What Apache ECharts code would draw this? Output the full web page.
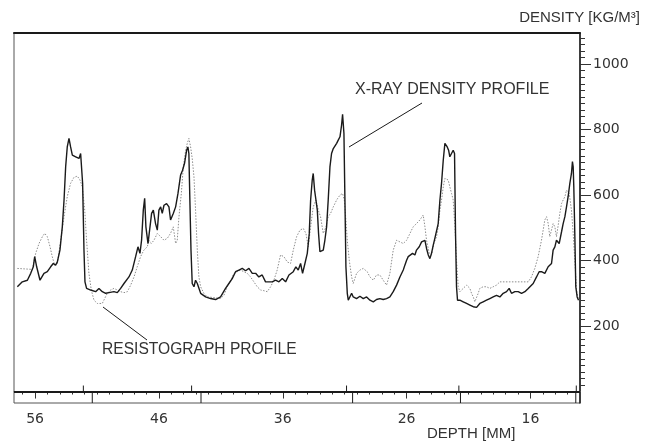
<!DOCTYPE html>
<html>
<head>
<meta charset="utf-8">
<script src="https://cdn.jsdelivr.net/npm/echarts@6/dist/echarts.min.js"></script>
<style>
  html, body { margin: 0; padding: 0; background: #fff; }
  #chart { width: 646px; height: 444px; }
</style>
</head>
<body>
<div id="chart"></div>
<script>
// depth [mm], density [kg/m3]
const xray = [
  [57.43,320],[57.03,335],[56.62,340],[56.35,361],[56.14,381],[56.03,412],[55.87,381],[55.60,340],[55.28,361],[55.01,366],
  [54.74,381],[54.53,391],[54.34,386],[54.20,396],[53.99,432],[53.80,503],[53.66,585],[53.53,686],[53.40,747],[53.26,773],
  [53.13,747],[52.99,722],[52.86,727],[52.72,717],[52.59,722],[52.45,712],[52.32,727],[52.24,729],[52.16,636],[52.05,432],
  [51.97,335],[51.84,315],[51.51,310],[51.11,305],[50.84,315],[50.57,305],[50.30,300],[50.03,302],[49.63,305],[49.36,302],
  [49.09,315],[48.82,330],[48.42,350],[48.15,371],[47.88,412],[47.69,442],[47.53,422],[47.40,462],[47.26,554],[47.15,590],
  [47.05,503],[46.88,452],[46.72,503],[46.59,544],[46.45,554],[46.27,513],[46.13,493],[46.00,554],[45.86,564],[45.73,544],
  [45.59,569],[45.38,574],[45.19,564],[45.06,524],[44.84,544],[44.65,564],[44.46,605],[44.25,661],[44.09,676],[43.93,697],
  [43.76,737],[43.66,747],[43.58,727],[43.50,585],[43.41,432],[43.31,330],[43.17,320],[43.04,340],[42.90,330],[42.63,300],
  [42.23,289],[41.83,284],[41.42,281],[41.02,289],[40.62,315],[40.35,330],[40.08,345],[39.81,366],[39.54,371],[39.27,376],
  [39.00,369],[38.73,376],[38.46,361],[38.19,361],[37.93,350],[37.66,356],[37.39,335],[37.12,335],[36.85,335],[36.58,340],
  [36.31,335],[36.04,345],[35.77,335],[35.50,356],
  [35.42,350],[35.15,366],[34.94,381],[34.75,371],[34.56,391],[34.40,361],[34.21,391],[34.02,422],[33.86,483],[33.75,585],
  [33.62,646],[33.54,666],[33.43,615],[33.32,585],[33.21,554],[33.11,483],[33.00,427],[32.86,422],[32.73,432],[32.60,462],
  [32.46,503],[32.33,585],[32.19,686],[32.06,727],[31.92,742],[31.79,737],[31.65,758],[31.52,768],[31.38,778],[31.25,814],
  [31.17,847],[31.06,788],[30.98,585],[30.90,381],[30.79,300],[30.71,279],[30.58,284],[30.44,300],[30.31,289],[30.17,294],
  [30.04,284],[29.90,289],[29.77,291],[29.50,284],[29.23,289],[28.96,279],[28.69,274],[28.43,281],[28.16,284],[27.89,281],
  [27.62,284],[27.35,289],[27.08,305],[26.81,325],[26.54,350],[26.27,371],[26.14,386],[26.00,401],[25.87,412],[25.73,417],
  [25.52,422],[25.33,417],[25.20,432],[24.98,442],[24.79,457],[24.66,452],[24.52,462],[24.39,437],[24.25,417],[24.12,406],
  [23.99,422],[23.85,447],[23.72,468],[23.58,473],[23.45,513],[23.31,585],[23.18,636],[23.04,707],[22.91,758],[22.83,763],
  [22.72,747],[22.61,737],[22.51,717],[22.37,722],[22.24,737],[22.13,727],[22.05,483],[21.97,320],[21.89,279],[21.70,279],
  [21.43,274],[21.16,269],[20.89,264],[20.62,259],[20.35,257],[20.09,269],[19.82,274],[19.55,279],[19.28,284],[19.01,289],
  [18.74,294],[18.47,289],[18.20,300],[17.93,305],[17.72,315],[17.53,300],[17.26,305],[16.99,305],[16.72,300],[16.45,305],
  [16.18,315],[16.05,310],[15.78,330],[15.51,350],[15.30,366],[15.11,366],[14.84,361],[14.57,381],[14.30,391],[14.17,432],
  [14.03,442],[13.90,462],[13.68,452],[13.49,488],[13.36,513],[13.22,534],[13.09,564],[12.96,595],[12.82,636],[12.69,666],
  [12.61,702],[12.55,686],[12.50,625],[12.42,483],[12.34,320],[12.23,289],[12.12,279]
];

const resisto = [
  [57.43,376],[56.22,373],[55.95,422],[55.68,452],[55.41,473],[55.22,483],[55.01,473],[54.79,442],[54.61,412],[54.42,386],
  [54.20,391],[53.93,462],[53.66,534],[53.40,595],[53.13,636],[52.86,654],[52.59,658],[52.37,646],[52.18,625],[51.99,554],
  [51.84,462],[51.65,361],[51.46,310],[51.24,279],[50.97,269],[50.57,269],[50.38,284],[50.17,300],[49.90,310],[49.63,315],
  [49.36,310],[49.09,305],[48.82,302],[48.55,305],[48.28,325],[48.01,350],[47.75,381],[47.48,412],[47.21,432],[46.94,442],
  [46.80,462],[46.62,452],[46.40,462],[46.13,483],[45.86,473],[45.59,462],[45.32,468],[45.06,483],[44.84,503],[44.65,452],
  [44.52,462],[44.38,534],[44.19,605],[44.03,686],[43.84,737],[43.71,758],[43.58,773],[43.44,747],[43.31,712],[43.17,656],
  [43.04,554],[42.90,432],[42.77,350],[42.63,320],[42.37,300],[42.10,289],[41.56,287],[41.02,284],[40.75,294],[40.48,320],
  [40.21,340],[39.94,361],[39.67,366],[39.41,371],[39.14,366],[38.87,361],[38.60,350],[38.33,335],[38.06,320],[37.79,310],
  [37.52,308],[37.25,305],[36.98,320],[36.72,340],[36.45,371],[36.18,417],[35.91,412],[35.64,396],[35.37,391],
  [35.15,432],[34.88,473],[34.61,493],[34.34,498],[34.13,483],[33.94,442],[33.75,503],[33.54,564],[33.32,585],[33.13,554],
  [32.95,534],[32.73,483],[32.51,503],[32.33,534],[32.14,544],[31.92,564],[31.65,585],[31.38,600],[31.17,605],[31.03,585],
  [30.90,524],[30.79,462],[30.63,401],[30.44,350],[30.31,330],[30.04,361],[29.77,371],[29.50,376],[29.18,366],[28.96,350],
  [28.69,340],[28.43,356],[28.16,356],[27.89,340],[27.62,325],[27.35,361],[27.08,432],[26.81,462],[26.54,457],[26.27,452],
  [26.00,462],[25.73,483],[25.47,503],[25.20,513],[24.93,524],[24.66,539],[24.52,503],[24.39,462],[24.17,422],[23.99,417],
  [23.80,452],[23.58,473],[23.45,503],[23.31,554],[23.18,585],[23.04,625],[22.91,651],[22.78,654],[22.64,646],[22.51,625],
  [22.37,605],[22.24,585],[22.10,503],[21.97,401],[21.83,320],[21.70,305],[21.43,315],[21.16,325],[20.89,315],[20.76,300],
  [20.62,289],[20.49,274],[20.35,279],[20.22,300],[20.09,315],[19.82,320],[19.55,320],[19.28,315],[19.01,320],[18.74,325],
  [18.47,335],[17.66,335],[16.59,335],[16.18,335],[15.92,350],[15.65,376],[15.38,412],[15.11,462],[14.84,524],[14.70,534],
  [14.57,513],[14.44,473],[14.17,513],[14.03,503],[13.90,473],[13.76,508],[13.63,544],[13.49,574],[13.36,585],[13.22,595],
  [13.09,615],[12.87,605],[12.69,554],[12.55,483],[12.42,401],[12.28,310],[12.15,284],[12.02,279]
];

// ring boundaries in the strip under the plot
const xrayRings = [52.1, 43.36, 30.85, 21.78, 12.3];
const resistoRings = [51.38, 42.6, 30.36, 21.65, 12.34];

// tick labels
const depthLabels = [56, 46, 36, 26, 16];
const depthMinor = [];
for (let d = 13; d <= 57; d++) depthMinor.push(d);
const densityLabels = [200, 400, 600, 800, 1000];
const densityMinor = [];
for (let v = 20; v <= 1080; v += 20) densityMinor.push(v);

const depthMin = 12, depthMax = 57.7;
const yMin = -35, yMax = 1095;
const ink = "#1a1a1a";
const txt = "#333";

const chart = echarts.init(document.getElementById("chart"));

const xBase = {
  type: "value", inverse: true, min: depthMin, max: depthMax,
  splitLine: { show: false }, gridIndex: 0
};
const yBase = {
  type: "value", min: yMin, max: yMax, position: "right",
  splitLine: { show: false }, gridIndex: 0
};
const plain = v => String(v);

chart.setOption({
  animation: false,
  grid: { left: 14, right: 66, top: 33, bottom: 41, show: true, borderColor: "#555", borderWidth: 1 },
  xAxis: [
    Object.assign({}, xBase, {
      position: "bottom", offset: 3,
      axisLine: { show: true, lineStyle: { color: "#777", width: 1 } },
      axisTick: { show: true, length: 3, customValues: depthMinor, lineStyle: { color: "#333" } },
      axisLabel: { show: false }
    }),
    Object.assign({}, xBase, {
      position: "bottom", offset: 3,
      axisLine: { show: false },
      axisTick: { show: true, length: 7, customValues: depthLabels, lineStyle: { color: "#333" } },
      axisLabel: { show: true, customValues: depthLabels, margin: 6, color: txt, formatter: plain,
        fontFamily: "DejaVu Sans", fontSize: 14 }
    }),
    Object.assign({}, xBase, {
      position: "top",
      axisLine: { show: true, lineStyle: { color: ink, width: 2 } },
      axisTick: { show: false }, axisLabel: { show: false }
    })
  ],
  yAxis: [
    Object.assign({}, yBase, {
      axisLine: { show: true, lineStyle: { color: ink, width: 1.5 } },
      axisTick: { show: true, length: 5, customValues: densityMinor, lineStyle: { color: "#333" } },
      axisLabel: { show: false }
    }),
    Object.assign({}, yBase, {
      axisLine: { show: false },
      axisTick: { show: true, length: 11, customValues: densityLabels, lineStyle: { color: "#333" } },
      axisLabel: { show: true, customValues: densityLabels, margin: 13, color: txt, formatter: plain,
        fontFamily: "DejaVu Sans", fontSize: 14 }
    })
  ],
  series: [
    {
      name: "Resistograph", type: "line", data: resisto, showSymbol: false,
      lineStyle: { color: "#8c8c8c", width: 1, type: [1.5, 1.5] }
    },
    {
      name: "X-ray", type: "line", data: xray, showSymbol: false,
      lineStyle: { color: ink, width: 1.4 },
      markLine: {
        silent: true, symbol: "none", label: { show: false },
        lineStyle: { color: ink, width: 2, type: "solid" },
        data: [{ yAxis: 0 }]
      }
    },
    {
      // x-ray ring ticks above the strip
      type: "custom", data: xrayRings.map(d => [d]),
      renderItem: function (params, api) {
        const p = api.coord([api.value(0), 0]);
        return { type: "line", shape: { x1: p[0], y1: p[1], x2: p[0], y2: p[1] - 6 },
          style: { stroke: ink, lineWidth: 1 } };
      }
    },
    {
      // resistograph ring dividers inside the strip
      type: "custom", data: resistoRings.map(d => [d]),
      renderItem: function (params, api) {
        const p = api.coord([api.value(0), 0]);
        const q = api.coord([api.value(0), yMin]);
        return { type: "line", shape: { x1: p[0], y1: p[1], x2: q[0], y2: q[1] },
          style: { stroke: ink, lineWidth: 1 } };
      }
    }
  ],
  graphic: [
    { type: "text", x: 640, y: 18, style: { text: "DENSITY [KG/M³]", fill: txt,
      font: '15px "Liberation Sans"', align: "right", verticalAlign: "middle" } },
    { type: "text", x: 427, y: 434, style: { text: "DEPTH [MM]", fill: txt,
      font: '15px "Liberation Sans"', align: "left", verticalAlign: "middle" } },
    { type: "text", x: 355, y: 90, style: { text: "X-RAY DENSITY PROFILE", fill: txt,
      font: '16px "Liberation Sans"', align: "left", verticalAlign: "middle" } },
    { type: "line", shape: { x1: 349, y1: 147, x2: 422, y2: 103 }, style: { stroke: ink, lineWidth: 1 } },
    { type: "text", x: 102, y: 350, style: { text: "RESISTOGRAPH PROFILE", fill: txt,
      font: '15.6px "Liberation Sans"', align: "left", verticalAlign: "middle" } },
    { type: "line", shape: { x1: 103, y1: 307, x2: 147, y2: 340 }, style: { stroke: ink, lineWidth: 1 } }
  ]
});
</script>
</body>
</html>
